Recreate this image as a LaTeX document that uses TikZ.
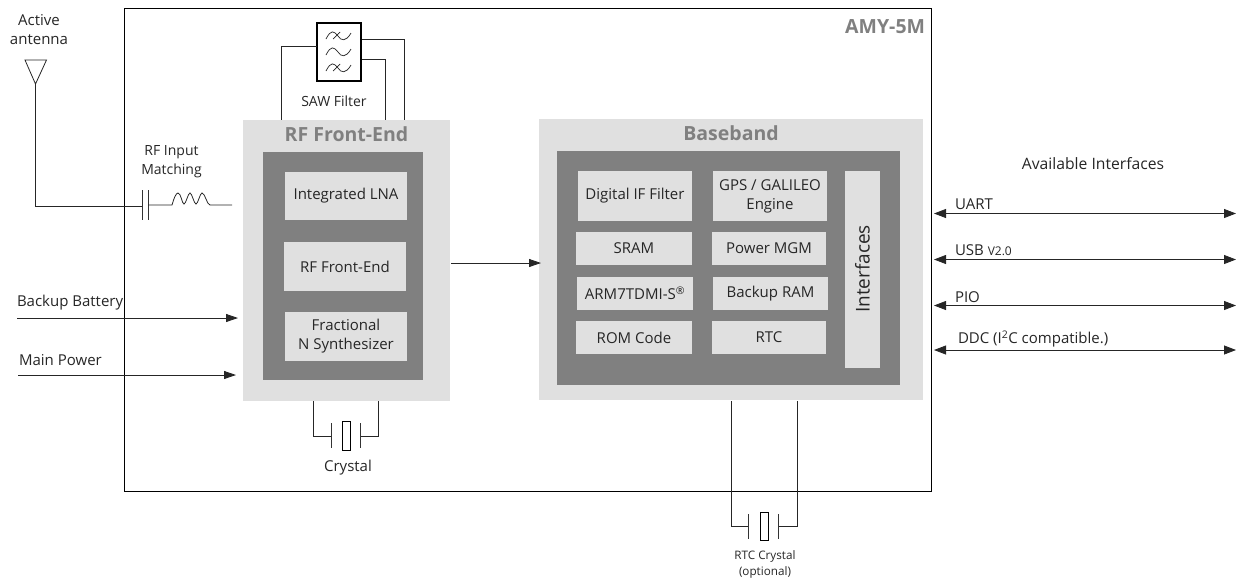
\documentclass[tikz,border=0pt]{standalone}
\usepackage{fontspec}
\setmainfont{Open Sans}
\usetikzlibrary{positioning, arrows.meta}
\definecolor{lightblock}{HTML}{E0E0E0}
\definecolor{darkblock}{HTML}{808080}

\begin{document}
\begin{tikzpicture}[
    x=1pt, y=-1pt,
    every node/.style={inner sep=0pt, outer sep=0pt, align=center, text=black!85, font=\fontsize{15}{19}\selectfont},
    blocksize/.style 2 args={minimum width=#1pt, minimum height=#2pt},
    lightbox/.style={fill=lightblock, anchor=north west},
    darkbox/.style={fill=darkblock, anchor=north west},
    titletext/.style={text=darkblock, font=\fontsize{19.5}{22}\selectfont\bfseries},
    smalltext/.style={font=\fontsize{14}{19}\selectfont},
    wire/.style={draw=black!85, line width=0.8pt},
    sig/.style={wire, -{Triangle[length=12pt,width=8pt]}},
    bus/.style={wire, {Triangle[length=12pt,width=9pt]}-{Triangle[length=12pt,width=9pt]}},
    plate/.style={draw=black!80, line width=0.9pt},
    wave/.style={line width=0.7pt, draw=black!85}
]
    \useasboundingbox (0,0) rectangle (1236,579);

    % module outline
    \node [draw=black, line width=1pt, anchor=north west, blocksize={807}{483}] (module) at (124.5,8) {};
    \node [titletext, anchor=east] (amy) at (925,27) {AMY-5M};

    % RF part
    \node [lightbox, blocksize={207}{281}] (rfblock) at (243,120) {};
    \node [darkbox, blocksize={160}{228}] (rfinner) at (263,152) {};
    \node [titletext] (rftitle) at (346.5,134) {RF Front-End};
    \node [lightbox, blocksize={122}{48}] (lna) at (285,172) {Integrated LNA};
    \node [lightbox, blocksize={122}{49}] (rffe) at (284,242) {RF Front-End};
    \node [lightbox, blocksize={122}{49}] (synth) at (285,312) {Fractional\\N Synthesizer};

    % baseband
    \node [lightbox, blocksize={384}{281}] (bbblock) at (539,119) {};
    \node [darkbox, blocksize={343}{234}] (bbinner) at (557,151) {};
    \node [titletext] (bbtitle) at (731,133) {Baseband};
    \node [lightbox, blocksize={114}{50}] (digif) at (578,171) {Digital IF Filter};
    \node [lightbox, blocksize={114}{50}] (gps) at (713,171) {GPS / GALILEO\\Engine};
    \node [lightbox, blocksize={116}{33}] (sram) at (576,232) {SRAM};
    \node [lightbox, blocksize={114}{33}] (power) at (712,232) {Power MGM};
    \node [lightbox, blocksize={116}{33}] (arm) at (577,277) {ARM7TDMI-S\textsuperscript{\textregistered}};
    \node [lightbox, blocksize={115}{33}] (backup) at (713,277) {Backup RAM};
    \node [lightbox, blocksize={116}{33}] (rom) at (576,321) {ROM Code};
    \node [lightbox, blocksize={114}{33}] (rtc) at (712,321) {RTC};
    \node [lightbox, blocksize={35}{197}] (ifbox) at (845,171) {};
    \node [rotate=90, font=\fontsize{19}{22}\selectfont] (iflabel) at (862.5,269) {Interfaces};

    % SAW filter
    \node [draw=black, fill=white, line width=1.6pt, anchor=north west, blocksize={44}{58}] (saw) at (317,23) {};
    \node [smalltext] (sawlabel) at (334,101) {SAW Filter};
    \coordinate (sawa) at (317,46);
    \coordinate (sawb) at (362,39);
    \coordinate (sawc) at (362,59);
    \draw [wire] (sawa) -| (281,120);
    \draw [wire] (sawb) -| (404,120);
    \draw [wire] (sawc) -| (385,120);
    \foreach \wy in {36,52,68} {
        \draw [wave] (326,\wy+3) .. controls (331,\wy-7) and (334,\wy-5) .. (338,\wy) .. controls (341,\wy+5) and (346,\wy+6) .. (351,\wy-3);
    }
    \draw [wave] (333,39) -- (340,32);
    \draw [wave] (333,71) -- (340,64);

    % antenna and matching
    \node (antlabel) at (39,29.5) {Active\\antenna};
    \coordinate (anttip) at (35.5,84);
    \coordinate (capa) at (142,206);
    \coordinate (capb) at (148,205);
    \draw [wire] (25,60) -- (46.5,60) -- (anttip) -- cycle;
    \draw [wire] (anttip) |- (capa);
    \draw [plate] (142,190) -- (142,220);
    \draw [plate] (148,190) -- (148,220);
    \node [smalltext] (matchlabel) at (171.5,162) {RF Input\\Matching};
    \draw [wire] (capb) -- (172,205) .. controls (174,198) and (176,193) .. (178,193) .. controls (181,193) and (182,204) .. (184,204) .. controls (186,204) and (188,193) .. (190,193) .. controls (192,193) and (194,204) .. (196,204) .. controls (198,204) and (200,193) .. (202,193) .. controls (205,193) and (207,205) .. (210,205) -- (232,205);

    % inputs
    \node [anchor=south west] (batlabel) at (17,310) {Backup Battery};
    \node [anchor=south west] (pwrlabel) at (19,366) {Main Power};
    \coordinate (batend) at (238,318);
    \coordinate (pwrend) at (236,375);
    \draw [sig] (17,318) -- (batend);
    \draw [sig] (18,375) -- (pwrend);

    \draw [sig] (451,263) -- (541,263);

    % crystal
    \node [draw=black, fill=white, line width=1pt, anchor=north west, blocksize={8}{29}] (xtal) at (342,421) {};
    \node (xtallabel) at (348,468) {Crystal};
    \draw [wire] (313.5,401) |- (331,436);
    \draw [wire] (378,401) |- (360,436);
    \draw [plate] (331,423) -- (331,448);
    \draw [plate] (360,423) -- (360,448);

    % rtc crystal
    \node [draw=black, fill=white, line width=1pt, anchor=north west, blocksize={8}{28}] (rtcxtal) at (760,512) {};
    \node [font=\fontsize{11.7}{16}\selectfont] (rtclabel) at (765,564) {RTC Crystal\\(optional)};
    \draw [wire] (731,401) |- (748,526);
    \draw [wire] (797,401) |- (778,526);
    \draw [plate] (748,514) -- (748,539);
    \draw [plate] (778,514) -- (778,539);

    % interfaces
    \node [font=\fontsize{15.7}{19}\selectfont] (availlabel) at (1093,164) {Available Interfaces};
    \foreach \busname/\busy in {uart/213.5, usb/259.5, pio/305.5, ddc/350} {
        \coordinate (\busname l) at (934,\busy);
        \coordinate (\busname r) at (1236,\busy);
        \draw [bus] (\busname l) -- (\busname r);
    }
    \node [anchor=south west] (uartlabel) at (955,210) {UART};
    \node [anchor=south west] (usblabel) at (955,256) {USB {\fontsize{12}{13}\selectfont V2.0}};
    \node [anchor=south west] (piolabel) at (955,303) {PIO};
    \node [anchor=south west] (ddclabel) at (958,347) {DDC (I\textsuperscript{2}C compatible.)};
\end{tikzpicture}
\end{document}
